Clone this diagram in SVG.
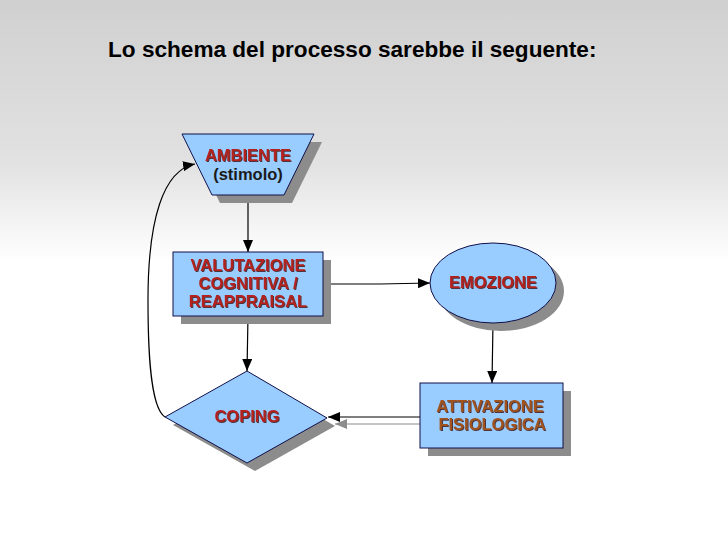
<svg xmlns="http://www.w3.org/2000/svg" width="728" height="546" viewBox="0 0 728 546">
<defs>
<linearGradient id="bg" x1="0" y1="0" x2="0" y2="546" gradientUnits="userSpaceOnUse">
<stop offset="0" stop-color="#d0d0d0"/>
<stop offset="0.3" stop-color="#e2e2e2"/>
<stop offset="0.48" stop-color="#ffffff"/>
<stop offset="1" stop-color="#ffffff"/>
</linearGradient>
<marker id="ah" viewBox="0 0 12 10" refX="12" refY="5" markerWidth="12" markerHeight="10" markerUnits="userSpaceOnUse" orient="auto">
<path d="M0,0 L12,5 L0,10 Z" fill="#000"/>
</marker>
<marker id="ahg" viewBox="0 0 12 10" refX="12" refY="5" markerWidth="12" markerHeight="10" markerUnits="userSpaceOnUse" orient="auto">
<path d="M0,0 L12,5 L0,10 Z" fill="#8c8c8c"/>
</marker>
<filter id="ts" x="-5%" y="-20%" width="115%" height="150%">
<feDropShadow dx="1" dy="1" stdDeviation="0.3" flood-color="#3a0a0a" flood-opacity="0.8"/>
</filter>
</defs>
<style>
.sh{fill:#8c8c8c}
.nd{fill:#99ccff;stroke:#10104a;stroke-width:1}
.t{font-family:"Liberation Sans",Arial,sans-serif;font-weight:bold;font-size:16.5px;text-anchor:middle}
.red{fill:#b3201c;filter:url(#ts)}
.brn{fill:#a0521e;filter:url(#ts)}
.blk{fill:#1a1a1a}
.c{fill:none;stroke:#000;stroke-width:1.2}
</style>
<rect width="728" height="546" fill="url(#bg)"/>
<text x="108" y="57" font-family="'Liberation Sans',Arial,sans-serif" font-weight="bold" font-size="22.6" fill="#000">Lo schema del processo sarebbe il seguente:</text>

<g id="connectors">
<line class="c" x1="248" y1="195" x2="248" y2="252" marker-end="url(#ah)"/>
<polyline class="c" points="323,284 380,284 430,283" marker-end="url(#ah)"/>
<line class="c" x1="248" y1="316" x2="247" y2="371" marker-end="url(#ah)"/>
<line class="c" x1="493" y1="322" x2="492" y2="383" marker-end="url(#ah)"/>
<line x1="428" y1="424" x2="335" y2="424" stroke="#8c8c8c" stroke-width="1.2" marker-end="url(#ahg)"/>
<line class="c" x1="420" y1="417" x2="328" y2="417" marker-end="url(#ah)"/>
<path class="c" d="M165,417 C149,407 148,340 148,300 C148,220 163,170 195,164" stroke-width="1" marker-end="url(#ah)"/>
</g>

<g id="ambiente">
<polygon class="sh" points="190,142 322,142 292,203 220,203"/>
<polygon class="nd" points="182,134 314,134 284,195 212,195"/>
<text class="t red" x="248" y="161">AMBIENTE</text>
<text class="t blk" x="248" y="180" font-size="15.5">(stimolo)</text>
</g>

<g id="valutazione">
<rect class="sh" x="181" y="260" width="150" height="64"/>
<rect class="nd" x="173" y="252" width="150" height="64"/>
<text class="t red" x="248" y="271">VALUTAZIONE</text>
<text class="t red" x="248" y="289">COGNITIVA /</text>
<text class="t red" x="248" y="307">REAPPRAISAL</text>
</g>

<g id="emozione">
<ellipse class="sh" cx="501" cy="291" rx="63" ry="40"/>
<ellipse class="nd" cx="493" cy="283" rx="63" ry="40"/>
<text class="t red" x="493" y="288">EMOZIONE</text>
</g>

<g id="attivazione">
<rect class="sh" x="428" y="391" width="143" height="65"/>
<rect class="nd" x="420" y="383" width="143" height="65"/>
<text class="t brn" x="490" y="412">ATTIVAZIONE</text>
<text class="t brn" x="492" y="430">FISIOLOGICA</text>
</g>

<g id="coping">
<polygon class="sh" points="255,379 335,426 255,471 173,425"/>
<polygon class="nd" points="247,371 327,418 247,463 165,417"/>
<text class="t red" x="247" y="422">COPING</text>
</g>
</svg>
